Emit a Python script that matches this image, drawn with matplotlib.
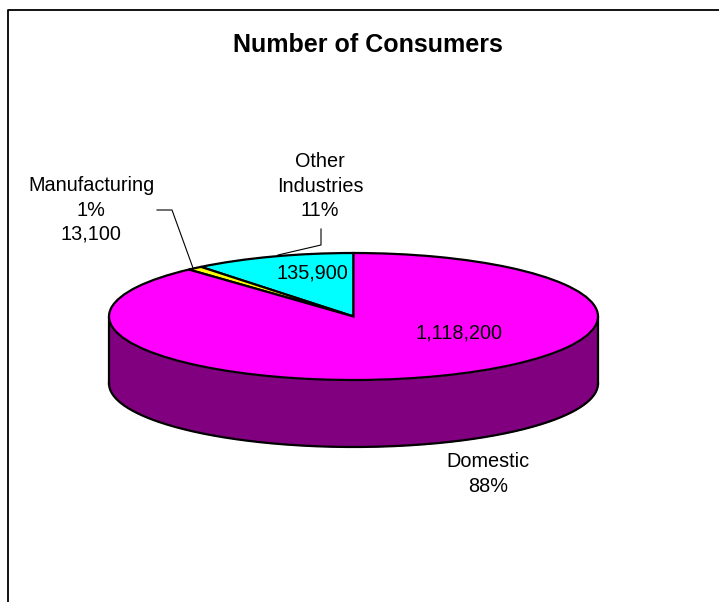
import numpy as np
import matplotlib
matplotlib.use("Agg")
import matplotlib.pyplot as plt
from matplotlib.lines import Line2D
from matplotlib.transforms import Affine2D

plt.rcParams['font.family'] = ['Liberation Sans', 'DejaVu Sans']

categories = ["Other\nIndustries", "Manufacturing", "Domestic"]
consumers = [135900, 13100, 1118200]
slice_colors = ["#00FFFF", "#FFFF00", "#FF00FF"]
wall_color = "#800080"
title = "Number of Consumers"

W, H = 719, 602
CX, CY, RX, RY, DEPTH = 353.5, 316.5, 244.5, 63.5, 67

fig = plt.figure(figsize=(W / 100, H / 100), dpi=100)
ax = fig.add_axes([0, 0, 1, 1])

# pixel transform (origin at top-left of the image)
px = Affine2D().scale(1, -1).translate(0, H)

LW = 1.6
ax.pie(consumers, colors=slice_colors, startangle=90, counterclock=True,
       radius=1, wedgeprops=dict(edgecolor="black", linewidth=LW, zorder=3))
ax.set_aspect("auto")
ax.set_xlim((0 - CX) / RX, (W - CX) / RX)
ax.set_ylim((CY - H) / RY, (CY - 0) / RY)
ax.axis("off")

# extruded wall of the 3D pie
t = np.linspace(np.pi, 2 * np.pi, 300)
wx, wy = np.cos(t), np.sin(t)
d = DEPTH / RY
ax.fill_between(wx, wy, wy - d, color=wall_color, zorder=1, linewidth=0)
ax.plot(wx, wy - d, color="black", lw=LW, zorder=2)
ax.plot([-1, -1], [0, -d], color="black", lw=LW, zorder=2)
ax.plot([1, 1], [0, -d], color="black", lw=LW, zorder=2)

total = sum(consumers)
pct = [f"{round(v / total * 100)}%" for v in consumers]
fs = 14.3


def label(x, y, s, **kw):
    fig.text(x, y, s, transform=px, ha="center", va="center",
             fontsize=kw.pop("fontsize", fs), color="black",
             linespacing=1.36, **kw)


fig.text(368, 45, title, transform=px, ha="center", va="center",
         fontsize=18, fontweight="bold")
label(320, 186, f"{categories[0]}\n{pct[0]}")
label(91, 210, f"{categories[1]}\n{pct[1]}\n{consumers[1]:,}")
label(488, 474, f"{categories[2]}\n{pct[2]}")
label(312, 273, f"{consumers[0]:,}")
label(459, 333, f"{consumers[2]:,}")

# leader lines
for xs, ys in [([157, 172, 193], [210, 210, 268]),
               ([321, 321, 278], [229, 245, 255])]:
    fig.add_artist(Line2D(xs, ys, transform=px, color="black", lw=0.8))

# chart frame: left and top edges only
fig.add_artist(Line2D([8, 8, W], [H, 10, 10], transform=px, color="black", lw=1.3))

fig.savefig("out.png", dpi=100)
